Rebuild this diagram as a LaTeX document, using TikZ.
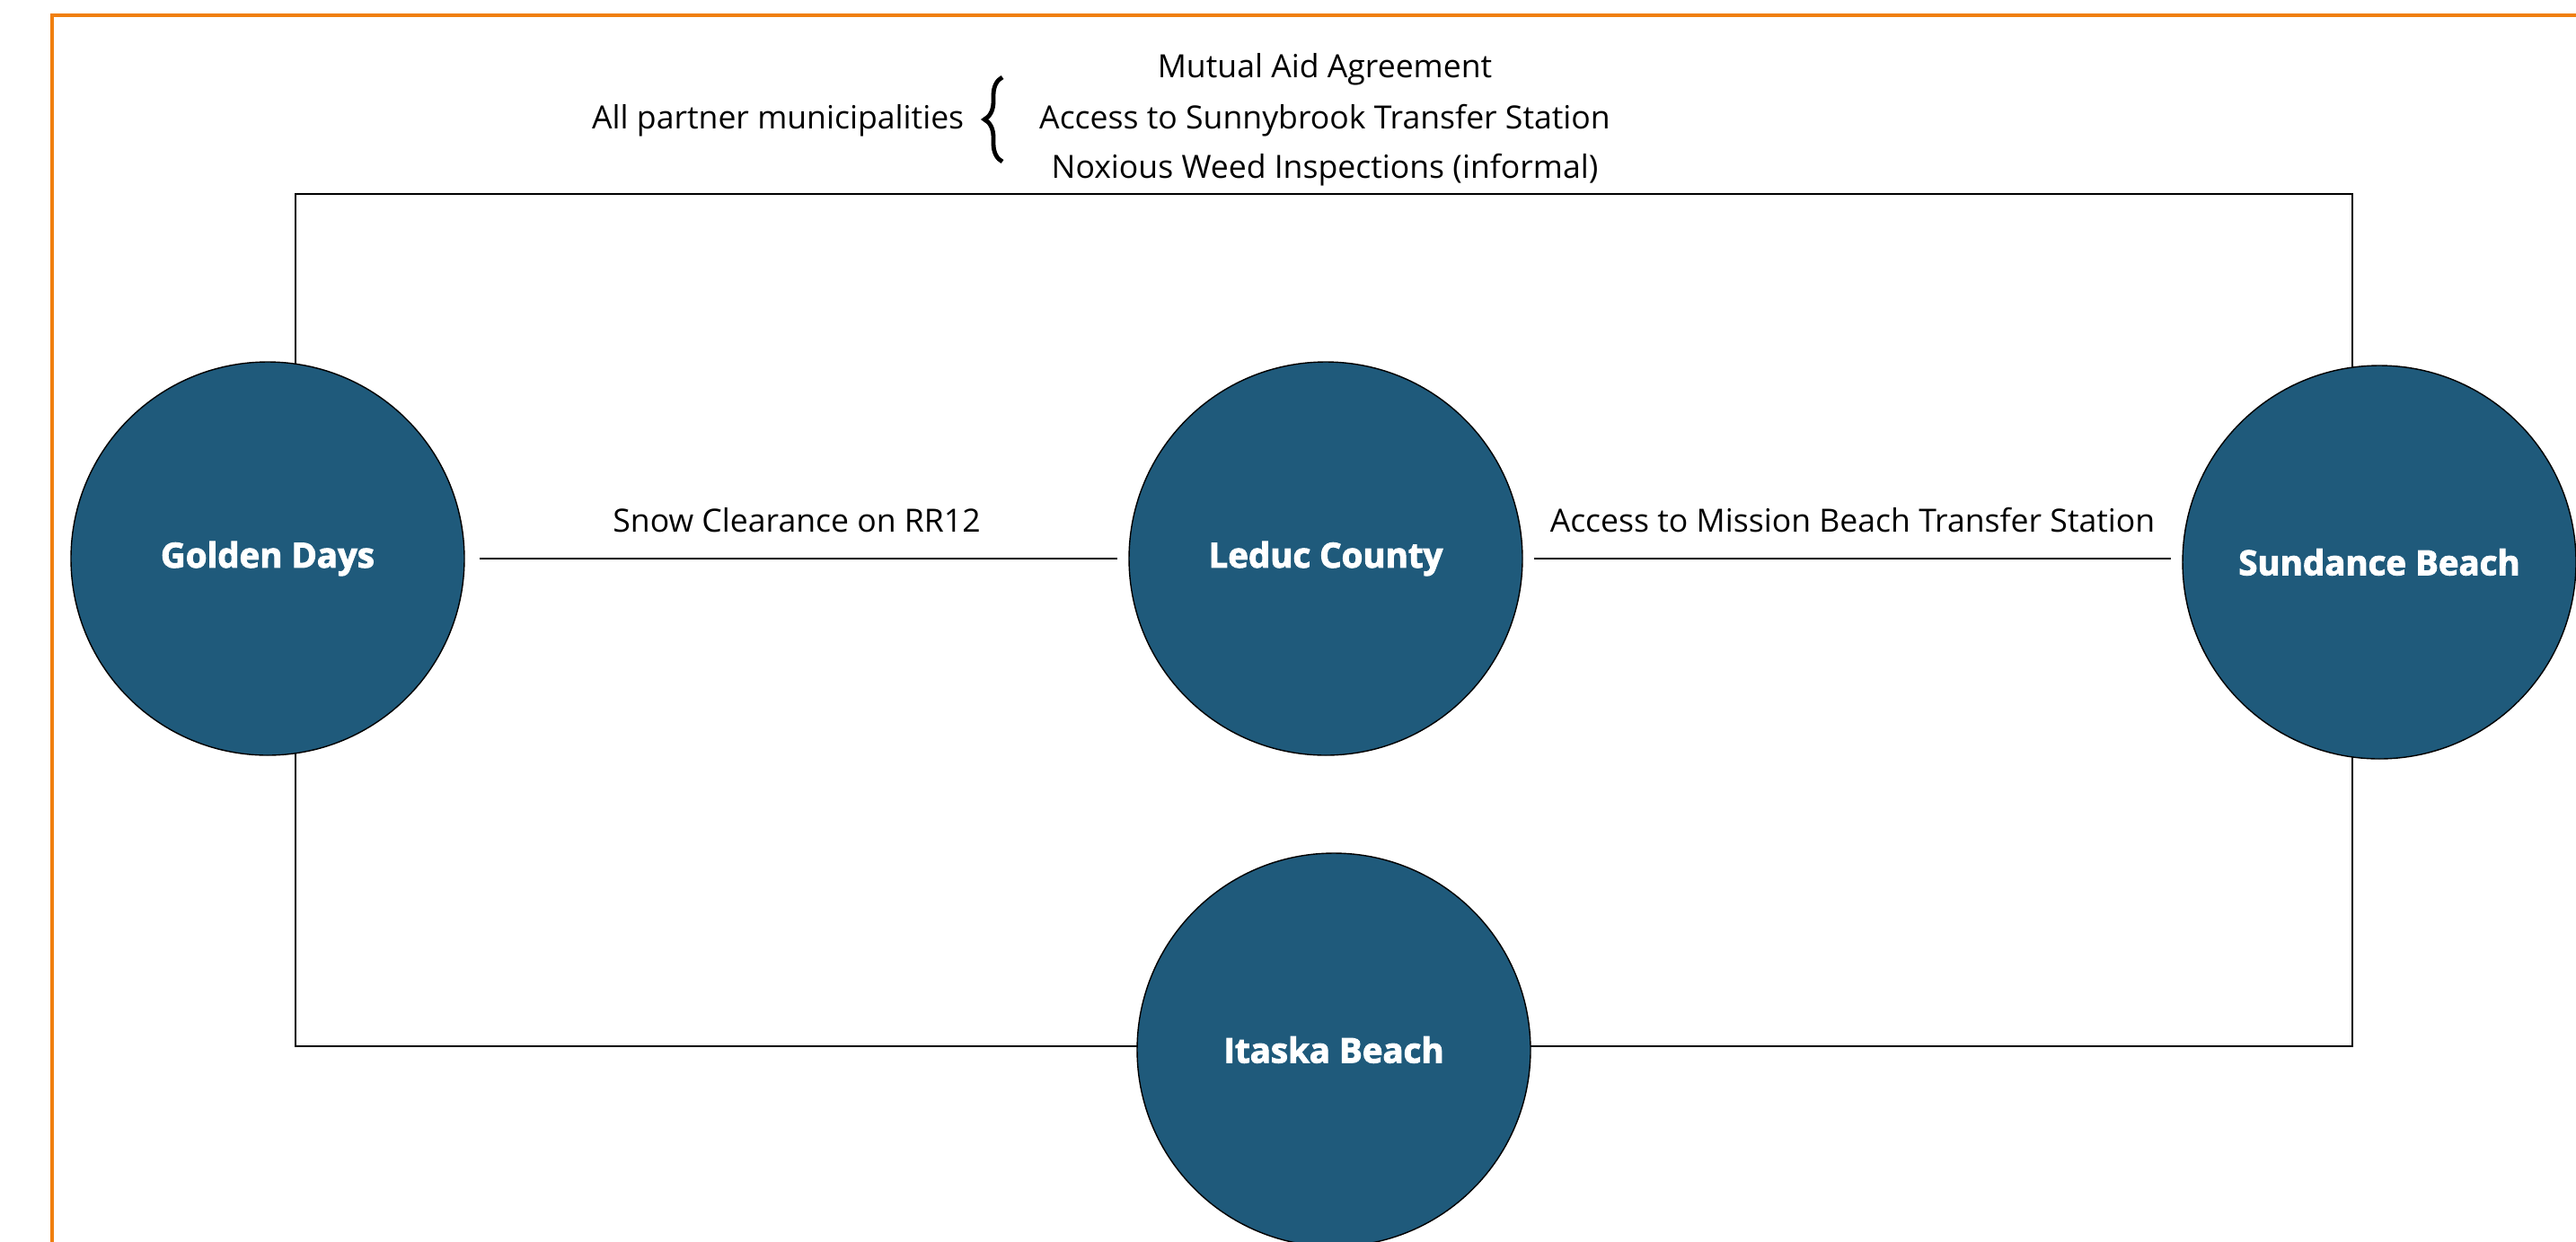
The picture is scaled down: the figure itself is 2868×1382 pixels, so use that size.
\documentclass[tikz,border=0pt]{standalone}
\usepackage{fontspec}
\setmainfont{Open Sans}
\newfontfamily\heavyfont{Open Sans}[BoldFeatures={FakeBold=2.6}]
\usetikzlibrary{calc,decorations.pathreplacing}
\definecolor{townblue}{HTML}{1F5A7B}
\definecolor{frameorange}{HTML}{F07F0F}
\tikzset{
  town/.style={circle, draw=black, line width=0.35pt, fill=townblue,
    minimum size=109.5pt, inner sep=0pt, text=white,
    font=\heavyfont\bfseries\fontsize{9.6}{11}\selectfont},
  link/.style={draw=black, line width=0.5pt},
  lbl/.style={font=\fontsize{8.9}{10}\selectfont, inner sep=0pt},
}
\begin{document}
\begin{tikzpicture}[x=0.25pt, y=-0.25pt]
  \useasboundingbox (0,0) rectangle (2868,1382);
  % outer frame, running off the page to the right and bottom
  \draw[frameorange, line width=0.8pt] (58,1400) -- (58,17) -- (2900,17);

  % partnership ring behind the towns
  \coordinate (ctl) at (329,216);
  \coordinate (cbr) at (2619,1165);
  \draw[link] (ctl) rectangle (cbr);

  % towns
  \node[town] (gd) at (298,622)  {Golden Days};
  \node[town] (lc) at (1476,622) {Leduc County};
  \node[town] (sb) at (2649,626) {Sundance Beach};
  \node[town] (ib) at (1485,1169) {Itaska Beach};

  % bilateral agreements
  \draw[link, shorten <=4pt, shorten >=3pt] (gd.east) -- (lc.west |- gd.east)
    node[lbl, midway, above=7pt] {Snow Clearance on RR12};
  \draw[link, shorten <=3pt, shorten >=3pt] (lc.east) -- (sb.west |- lc.east)
    node[lbl, midway, above=7pt] {Access to Mission Beach Transfer Station};

  % agreements shared by all partners
  \node[lbl] (a1) at (1475,77)  {Mutual Aid Agreement};
  \node[lbl] (a2) at (1475,134) {Access to Sunnybrook Transfer Station};
  \node[lbl] (a3) at (1475,189) {Noxious Weed Inspections (informal)};
  \node[lbl, anchor=east] (all) at (1074,134) {All partner municipalities};
  \coordinate (bb) at (1116,180);
  \coordinate (bt) at (1116,86);
  \draw[line width=1.2pt, decorate, decoration={brace, amplitude=5pt}] (bb) -- (bt);
\end{tikzpicture}
\end{document}
